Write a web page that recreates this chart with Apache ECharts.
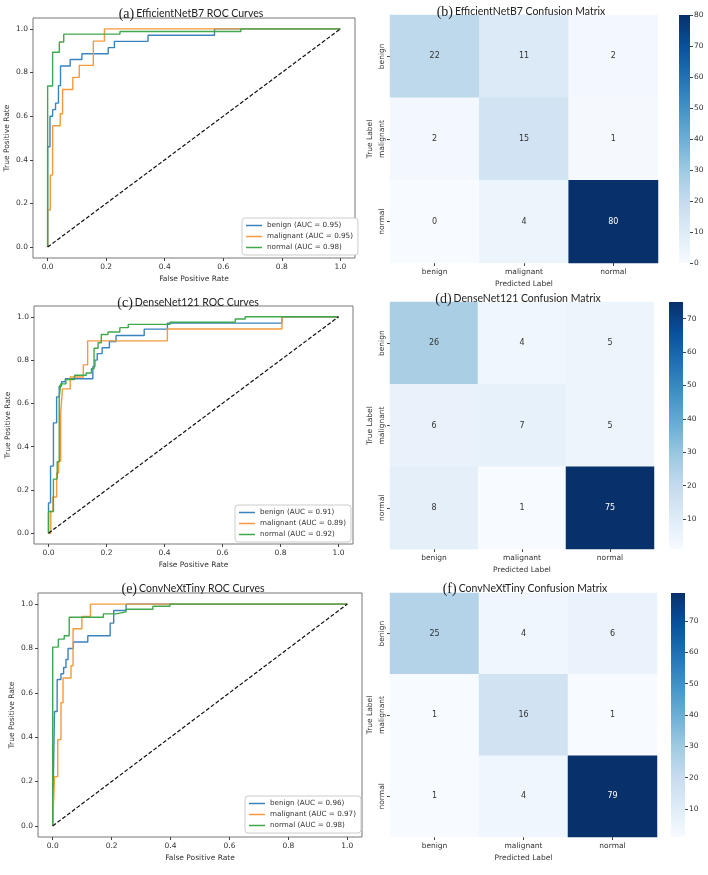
<!DOCTYPE html>
<html>
<head>
<meta charset="utf-8">
<script src="https://cdn.jsdelivr.net/npm/echarts@6/dist/echarts.min.js"></script>
<style>
  html, body { margin: 0; padding: 0; background: #fff; }
  #main { width: 708px; height: 875px; }
</style>
</head>
<body>
<div id="main"></div>
<script>
// ---- data ----
const classes = ['benign', 'malignant', 'normal'];
const rocTicks = [0, 0.2, 0.4, 0.6, 0.8, 1.0];

const aucB7 = [0.95, 0.95, 0.98];
const aucD121 = [0.91, 0.89, 0.92];
const aucCnx = [0.96, 0.97, 0.98];

// EfficientNetB7 ROC points [fpr, tpr]
const rocB7Benign = [[0,0],[0,0.46],[0.008,0.46],[0.008,0.6],[0.017,0.6],[0.017,0.63],[0.027,0.63],[0.027,0.66],[0.037,0.66],[0.037,0.74],[0.044,0.74],[0.044,0.83],[0.077,0.83],[0.077,0.86],[0.117,0.86],[0.117,0.886],[0.207,0.886],[0.207,0.914],[0.228,0.914],[0.228,0.943],[0.343,0.943],[0.343,0.971],[0.57,0.971],[0.57,1],[1,1]];
const rocB7Malig = [[0,0],[0,0.17],[0.009,0.17],[0.009,0.33],[0.017,0.33],[0.017,0.556],[0.043,0.556],[0.043,0.611],[0.051,0.611],[0.051,0.722],[0.086,0.722],[0.086,0.778],[0.108,0.778],[0.108,0.833],[0.156,0.833],[0.156,0.944],[0.194,0.944],[0.194,1],[1,1]];
const rocB7Normal = [[0,0],[0,0.738],[0.017,0.738],[0.017,0.893],[0.04,0.893],[0.04,0.94],[0.055,0.94],[0.055,0.976],[0.247,0.976],[0.247,0.988],[0.66,0.988],[0.66,1],[1,1]];

// DenseNet121 ROC points
const rocD121Benign = [[0,0],[0,0.14],[0.007,0.14],[0.007,0.31],[0.017,0.31],[0.017,0.51],[0.028,0.51],[0.028,0.63],[0.037,0.63],[0.037,0.68],[0.045,0.68],[0.045,0.7],[0.058,0.7],[0.058,0.714],[0.153,0.714],[0.153,0.77],[0.16,0.77],[0.16,0.8],[0.168,0.8],[0.168,0.83],[0.185,0.83],[0.185,0.857],[0.21,0.857],[0.21,0.886],[0.233,0.886],[0.233,0.914],[0.33,0.914],[0.33,0.943],[0.41,0.943],[0.41,0.971],[0.805,0.971],[0.805,1],[1,1]];
const rocD121Malig = [[0,0],[0.008,0],[0.008,0.1],[0.015,0.1],[0.015,0.167],[0.028,0.167],[0.028,0.278],[0.035,0.278],[0.035,0.333],[0.042,0.333],[0.042,0.556],[0.048,0.556],[0.048,0.667],[0.075,0.667],[0.075,0.722],[0.12,0.722],[0.12,0.778],[0.135,0.778],[0.135,0.889],[0.41,0.889],[0.41,0.944],[0.805,0.944],[0.805,1],[1,1]];
const rocD121Normal = [[0,0],[0,0.1],[0.017,0.1],[0.017,0.25],[0.03,0.25],[0.03,0.33],[0.037,0.33],[0.037,0.63],[0.042,0.63],[0.042,0.69],[0.06,0.69],[0.06,0.71],[0.09,0.71],[0.09,0.73],[0.13,0.73],[0.13,0.74],[0.148,0.74],[0.148,0.76],[0.157,0.76],[0.157,0.855],[0.171,0.855],[0.171,0.88],[0.182,0.88],[0.182,0.918],[0.205,0.918],[0.205,0.93],[0.246,0.93],[0.246,0.95],[0.275,0.95],[0.275,0.965],[0.419,0.965],[0.419,0.975],[0.644,0.975],[0.644,0.99],[0.678,0.99],[0.678,1],[1,1]];

// ConvNeXtTiny ROC points
const rocCnxBenign = [[0,0],[0,0.03],[0.006,0.03],[0.006,0.516],[0.015,0.516],[0.015,0.66],[0.028,0.66],[0.028,0.686],[0.037,0.686],[0.037,0.714],[0.045,0.714],[0.045,0.75],[0.052,0.75],[0.052,0.8],[0.07,0.8],[0.07,0.829],[0.119,0.829],[0.119,0.857],[0.195,0.857],[0.195,0.914],[0.207,0.914],[0.207,0.971],[0.249,0.971],[0.249,1],[1,1]];
const rocCnxMalig = [[0,0],[0.006,0],[0.006,0.222],[0.017,0.222],[0.017,0.389],[0.028,0.389],[0.028,0.556],[0.035,0.556],[0.035,0.667],[0.062,0.667],[0.062,0.722],[0.069,0.722],[0.069,0.889],[0.099,0.889],[0.099,0.944],[0.128,0.944],[0.128,1],[1,1]];
const rocCnxNormal = [[0,0],[0,0.806],[0.019,0.806],[0.019,0.842],[0.039,0.842],[0.039,0.857],[0.056,0.857],[0.056,0.941],[0.172,0.941],[0.172,0.956],[0.215,0.956],[0.215,0.965],[0.249,0.965],[0.249,0.977],[0.34,0.977],[0.34,0.99],[0.398,0.99],[0.398,1],[1,1]];

const chanceLine = [[0,0],[1,1]];

// confusion matrices, rows = true label, cols = predicted
const cmB7 = [[22,11,2],[2,15,1],[0,4,80]];
const cmD121 = [[26,4,5],[6,7,5],[8,1,75]];
const cmCnx = [[25,4,6],[1,16,1],[1,4,79]];

const cbTicksB7 = [0,10,20,30,40,50,60,70,80];
const cbTicksD121 = [10,20,30,40,50,60,70];
const cbTicksCnx = [10,20,30,40,50,60,70];

// ---- styling ----
const lineColors = ['#3b83bf', '#f49a3c', '#40a84c'];
const blues = ['#f7fbff','#deebf7','#c6dbef','#9ecae1','#6baed6','#4292c6','#2171b5','#08519c','#08306b'];
const sans = 'DejaVu Sans';
const tickCol = '#333';
const fs = 7.5;

const chart = echarts.init(document.getElementById('main'));

const rocPanels = [
  { grid: { left: 33, top: 18, width: 322, height: 240 }, legend: [242, 218], auc: aucB7, curves: [rocB7Benign, rocB7Malig, rocB7Normal] },
  { grid: { left: 34, top: 306, width: 319, height: 238 }, legend: [235, 505], auc: aucD121, curves: [rocD121Benign, rocD121Malig, rocD121Normal] },
  { grid: { left: 38, top: 593, width: 324, height: 244 }, legend: [245, 796], auc: aucCnx, curves: [rocCnxBenign, rocCnxMalig, rocCnxNormal] }
];
const cmPanels = [
  { grid: { left: 390, top: 15, width: 268, height: 248 }, cb: { left: 679, top: 15, width: 11, height: 248 }, cm: cmB7, ticks: cbTicksB7 },
  { grid: { left: 390, top: 302, width: 264, height: 247 }, cb: { left: 669, top: 302, width: 14, height: 247 }, cm: cmD121, ticks: cbTicksD121 },
  { grid: { left: 390, top: 593, width: 267, height: 244 }, cb: { left: 671, top: 593, width: 14, height: 244 }, cm: cmCnx, ticks: cbTicksCnx }
];

const titles = [
  ['(a)', 'EfficientNetB7 ROC Curves', 186, 2],
  ['(b)', 'EfficientNetB7 Confusion Matrix', 516, 0],
  ['(c)', 'DenseNet121 ROC Curves', 183, 291],
  ['(d)', 'DenseNet121 Confusion Matrix', 513, 287],
  ['(e)', 'ConvNeXtTiny ROC Curves', 188, 577],
  ['(f)', 'ConvNeXtTiny Confusion Matrix', 520, 577]
];

const grid = [], xAxis = [], yAxis = [], series = [], legend = [], visualMap = [];

rocPanels.forEach((p, i) => {
  grid.push(Object.assign({ show: true, borderColor: '#777', borderWidth: 1, backgroundColor: '#fff' }, p.grid));
  const axisCommon = {
    type: 'value', gridIndex: i, min: -0.05, max: 1.05,
    splitLine: { show: false },
    axisLine: { show: false, onZero: false },
    axisTick: { show: true, length: 3, lineStyle: { color: '#444' }, customValues: rocTicks },
    nameLocation: 'middle',
    nameTextStyle: { fontFamily: sans, fontSize: fs, color: tickCol }
  };
  const lab = { fontFamily: sans, fontSize: fs, color: tickCol, customValues: rocTicks, formatter: v => v.toFixed(1) };
  xAxis.push(Object.assign({}, axisCommon, { name: 'False Positive Rate', nameGap: 17, axisLabel: Object.assign({ margin: 5 }, lab) }));
  yAxis.push(Object.assign({}, axisCommon, { name: 'True Positive Rate', nameGap: 22, axisLabel: Object.assign({ margin: 5 }, lab) }));
  const names = classes.map((c, k) => c + ' (AUC = ' + p.auc[k].toFixed(2) + ')');
  p.curves.forEach((d, k) => {
    series.push({
      type: 'line', name: names[k], xAxisIndex: i, yAxisIndex: i, data: d,
      symbol: 'none', lineStyle: { color: lineColors[k], width: 1.4 }, itemStyle: { color: lineColors[k] },
      animation: false, silent: true
    });
  });
  series.push({
    type: 'line', name: 'chance' + i, xAxisIndex: i, yAxisIndex: i, data: chanceLine,
    symbol: 'none', lineStyle: { color: '#111', width: 1.2, type: [4, 2] }, animation: false, silent: true
  });
  legend.push({
    data: names, orient: 'vertical', left: p.legend[0], top: p.legend[1],
    icon: 'rect', itemWidth: 16, itemHeight: 1.5, itemGap: 4, padding: [4, 5, 4, 4],
    backgroundColor: '#fff', borderColor: '#ccc', borderWidth: 1, borderRadius: 3,
    textStyle: { fontFamily: sans, fontSize: 7.2, color: tickCol }, selectedMode: false
  });
});

cmPanels.forEach((p, j) => {
  const gi = 3 + j;
  grid.push(p.grid);
  xAxis.push({
    type: 'category', gridIndex: gi, data: classes,
    axisLine: { show: false }, splitLine: { show: false },
    axisTick: { show: true, alignWithLabel: true, length: 3, lineStyle: { color: '#444' } },
    axisLabel: { fontFamily: sans, fontSize: fs, color: tickCol, margin: 5 },
    name: 'Predicted Label', nameLocation: 'middle', nameGap: 17,
    nameTextStyle: { fontFamily: sans, fontSize: fs, color: tickCol }
  });
  yAxis.push({
    type: 'category', gridIndex: gi, data: classes, inverse: true,
    axisLine: { show: false }, splitLine: { show: false },
    axisTick: { show: true, alignWithLabel: true, length: 3, lineStyle: { color: '#444' } },
    axisLabel: { fontFamily: sans, fontSize: fs, color: tickCol, rotate: 90, margin: 4 },
    name: 'True Label', nameLocation: 'middle', nameGap: 16, nameRotate: 90,
    nameTextStyle: { fontFamily: sans, fontSize: fs, color: tickCol }
  });
});

cmPanels.forEach((p, j) => {
  const gi = 6 + j;
  grid.push(p.cb);
  xAxis.push({ type: 'category', gridIndex: gi, data: ['c'], show: false, boundaryGap: true });
  const flat = p.cm.flat();
  yAxis.push({
    type: 'value', gridIndex: gi, position: 'right', min: Math.min(...flat), max: Math.max(...flat),
    splitLine: { show: false }, axisLine: { show: false },
    axisTick: { show: true, length: 3, lineStyle: { color: '#444' }, customValues: p.ticks },
    axisLabel: { fontFamily: sans, fontSize: fs, color: tickCol, margin: 4, customValues: p.ticks }
  });
});

// heatmap series
cmPanels.forEach((p, j) => {
  const data = [];
  p.cm.forEach((row, r) => row.forEach((v, c) => data.push([c, r, v])));
  const flat = p.cm.flat();
  const vmin = Math.min(...flat), vmax = Math.max(...flat);
  visualMap.push({
    type: 'continuous', show: false, min: vmin, max: vmax, seriesIndex: series.length,
    inRange: { color: blues }
  });
  series.push({
    type: 'heatmap', xAxisIndex: 3 + j, yAxisIndex: 3 + j, data: data,
    label: {
      show: true,
      formatter: prm => (prm.value[2] > vmin + 0.6 * (vmax - vmin) ? '{w|' : '{d|') + prm.value[2] + '}',
      rich: {
        w: { color: '#fff', fontFamily: sans, fontSize: 8 },
        d: { color: '#333', fontFamily: sans, fontSize: 8 }
      }
    },
    animation: false, silent: true
  });
});

// colorbars
cmPanels.forEach((p, j) => {
  const flat = p.cm.flat();
  series.push({
    type: 'bar', xAxisIndex: 6 + j, yAxisIndex: 6 + j, data: [Math.max(...flat)],
    barWidth: '100%',
    itemStyle: {
      color: new echarts.graphic.LinearGradient(0, 0, 0, 1,
        blues.slice().reverse().map((c, k) => ({ offset: k / (blues.length - 1), color: c })))
    },
    animation: false, silent: true
  });
});

const title = titles.map(t => ({
  text: '{p|' + t[0] + '}' + t[1],
  left: t[2], top: t[3], textAlign: 'center',
  textStyle: {
    fontFamily: 'Lato', fontSize: 10.5, fontWeight: 'normal', color: '#222',
    rich: { p: { fontFamily: 'Liberation Serif', fontSize: 14, color: '#222', padding: [0, 2, 0, 0] } }
  }
}));

chart.setOption({
  animation: false,
  backgroundColor: '#fff',
  title: title,
  legend: legend,
  grid: grid,
  xAxis: xAxis,
  yAxis: yAxis,
  visualMap: visualMap,
  series: series
});
</script>
</body>
</html>
